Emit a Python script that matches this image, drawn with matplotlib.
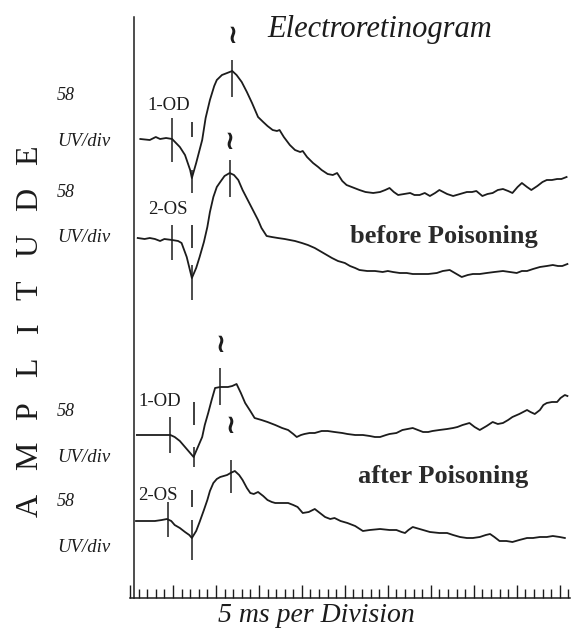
import matplotlib
matplotlib.use("Agg")
import matplotlib.pyplot as plt

# time in ms (1 minor tick = 1 ms, 5 ms per division), amplitude relative to baseline
t_od_before = [1.2, 2.3, 3.0, 3.5, 4.2, 4.9, 5.8, 6.4, 7.0, 7.2, 7.7, 8.4, 8.8, 9.3, 9.8, 10.1, 10.7, 11.3, 11.9,
               12.4, 13.0, 13.6, 14.2, 14.9, 15.5, 16.0, 16.6, 17.1, 17.4, 17.9, 18.6, 19.2, 19.8, 20.1, 20.6, 21.3,
               21.9, 22.3, 23.0, 23.6, 24.1, 24.7, 25.2, 25.8, 26.7, 27.4, 28.3, 29.1, 29.7, 30.2, 30.7, 31.2, 31.9,
               32.6, 33.1, 33.7, 34.3, 34.9, 35.5, 36.0, 36.9, 37.6, 38.4, 39.2, 39.8, 40.3, 41.0, 41.6, 42.2, 42.8,
               43.4, 44.0, 44.5, 45.1, 45.6, 46.2, 46.7, 47.4, 48.0, 48.5, 49.1, 49.7, 50.2, 50.8]
v_od_before = [0, -1, 2, 0, 1, 0, -8, -16, -31, -39, -24, -1, 21, 39, 53, 59, 64, 66, 68,
               64, 57, 47, 36, 22, 17, 13, 9, 8, 9, 2, -6, -11, -13, -12, -18, -24,
               -28, -31, -35, -36, -34, -42, -46, -48, -51, -53, -54, -53, -51, -49, -53, -56, -55,
               -54, -56, -56, -54, -57, -54, -51, -55, -57, -55, -53, -53, -52, -57, -55, -54, -51,
               -50, -52, -54, -48, -44, -48, -51, -47, -43, -41, -41, -40, -40, -38]

t_os_before = [0.9, 1.7, 2.3, 2.9, 3.5, 4.0, 4.9, 5.6, 6.0, 6.6, 7.2, 7.7, 8.1, 8.6, 9.0, 9.3, 9.7, 10.1, 10.5,
               11.0, 11.6, 12.1, 12.6, 13.1, 13.7, 14.3, 14.9, 15.3, 15.9, 16.5, 17.2, 18.0, 19.2, 20.0, 20.7,
               21.5, 22.3, 22.9, 23.5, 24.2, 25.0, 25.6, 26.2, 26.7, 27.6, 28.5, 29.4, 30.0, 30.6, 31.4, 32.2,
               32.9, 33.7, 34.7, 35.7, 36.4, 37.2, 37.8, 38.6, 39.3, 39.9, 40.7, 41.5, 42.4, 43.4, 44.2, 45.0,
               45.6, 46.2, 46.9, 47.7, 48.5, 49.2, 49.8, 50.3, 50.9]
v_os_before = [1, 0, 1, 0, -2, 0, -1, -2, -4, -18, -39, -29, -18, -3, 12, 27, 42, 52, 57,
               63, 66, 64, 59, 49, 39, 29, 19, 11, 3, 2, 1, 0, -2, -4, -6,
               -9, -13, -16, -19, -22, -24, -27, -29, -31, -32, -32, -33, -32, -33, -34, -34,
               -35, -35, -35, -34, -32, -31, -34, -38, -36, -35, -35, -34, -33, -32, -33, -34,
               -32, -32, -30, -28, -27, -26, -27, -27, -25]

t_od_after = [0.8, 1.7, 2.9, 3.7, 4.7, 5.2, 5.8, 6.4, 7.0, 7.4, 7.9, 8.4, 8.7, 9.1, 9.5, 9.9, 10.5, 10.9, 11.4,
              11.9, 12.4, 12.9, 13.4, 14.0, 14.5, 15.3, 16.0, 16.9, 17.7, 18.4, 19.0, 19.4, 19.9, 20.3, 20.9,
              21.5, 22.3, 23.0, 23.8, 24.7, 25.3, 26.2, 27.1, 27.9, 28.5, 29.1, 29.8, 30.2, 31.0, 31.7, 32.3,
              32.9, 33.5, 34.1, 34.7, 35.2, 36.0, 36.9, 37.6, 38.1, 38.7, 39.5, 40.1, 40.7, 41.5, 42.2, 42.8,
              43.4, 44.0, 44.5, 45.3, 46.2, 46.6, 47.1, 47.7, 48.1, 48.5, 49.1, 49.7, 50.1, 50.6, 50.9]
v_od_after = [0, 0, 0, 0, 0, -2, -6, -12, -18, -22, -12, -2, 10, 22, 35, 47, 48, 48, 48,
              49, 51, 42, 32, 24, 17, 15, 13, 10, 7, 5, 1, -2, 0, 1, 2,
              2, 4, 4, 3, 2, 1, 0, 0, -1, -2, -2, 0, 1, 2, 5, 6,
              7, 5, 3, 3, 4, 5, 6, 7, 8, 10, 12, 8, 5, 9, 13, 11,
              12, 15, 18, 21, 25, 23, 21, 25, 30, 32, 33, 33, 37, 40, 39]

t_os_after = [0.7, 1.7, 2.9, 3.7, 4.3, 4.8, 5.2, 5.8, 6.4, 6.9, 7.2, 7.7, 8.1, 8.6, 9.0, 9.3, 9.7, 10.1, 10.5,
              10.9, 11.3, 11.7, 12.2, 12.7, 13.1, 13.6, 14.0, 14.4, 14.9, 15.5, 16.0, 16.5, 16.9, 17.7, 18.4,
              19.0, 19.5, 20.1, 20.8, 21.5, 22.1, 22.7, 23.3, 23.8, 24.5, 25.3, 26.2, 27.1, 27.9, 29.1, 30.2,
              31.0, 31.6, 32.0, 32.4, 32.9, 33.7, 34.9, 36.0, 36.9, 37.6, 38.4, 39.2, 39.9, 40.7, 41.4, 41.9,
              42.4, 43.0, 43.8, 44.5, 45.3, 46.2, 46.9, 47.7, 48.5, 49.2, 50.0, 50.6]
v_os_after = [0, 0, 0, 1, 2, 0, -4, -7, -11, -14, -17, -10, -1, 11, 21, 30, 38, 42, 44,
              45, 46, 48, 50, 46, 41, 33, 28, 27, 29, 25, 21, 19, 18, 18, 18,
              16, 14, 8, 9, 12, 8, 4, 2, 3, 0, -2, -5, -10, -9, -8, -9,
              -9, -11, -12, -9, -6, -8, -11, -12, -12, -14, -16, -17, -17, -16, -14, -13,
              -16, -20, -20, -21, -19, -17, -17, -16, -16, -15, -16, -17]

# latencies (ms): onset, a-wave, b-wave
onset = [4.9, 4.9, 4.65, 4.4]
a_wave = [7.2, 7.2, 7.4, 7.2]
b_wave = [11.9, 11.6, 10.5, 11.7]

eye_labels = ["1-OD", "2-OS", "1-OD", "2-OS"]
scale_label = ["58", "UV/div"]
conditions = ["before Poisoning", "after Poisoning"]

W, H = 573, 632
baselines = [493, 393, 197, 111]
# marker extents relative to baseline: onset, a upper, a lower, b line, squiggle
onset_ext = [(21, -23), (14, -21), (18, -18), (19, -16)]
a_up = [(17, 2), (14, -9), (33, 10), (31, 14)]
a_low = [(-31, -54), (-26, -61), (-12, -32), (1, -39)]
b_line = [(79, 42), (79, 42), (67, 30), (61, 28)]
squig = [103, 97, 90, 95]

ink = "#1c1c1c"
serif = "Liberation Serif"

fig = plt.figure(figsize=(W / 100, H / 100), dpi=100)
ax = fig.add_axes([130 / W, 34 / H, 440 / W, (615 - 34) / H])
ax.set_xlim(0, 51.2)
ax.set_ylim(34, 615)

traces = [(t_od_before, v_od_before), (t_os_before, v_os_before),
          (t_od_after, v_od_after), (t_os_after, v_os_after)]
for i, (t, v) in enumerate(traces):
    b = baselines[i]
    ax.plot(t, [b + a for a in v], color=ink, lw=1.3, solid_joinstyle="round")
    ax.vlines(onset[i], b + onset_ext[i][1], b + onset_ext[i][0], color=ink, lw=1.1)
    ax.vlines(a_wave[i], b + a_up[i][1], b + a_up[i][0], color=ink, lw=1.2)
    ax.vlines(a_wave[i], b + a_low[i][1], b + a_low[i][0], color=ink, lw=1.1)
    ax.vlines(b_wave[i], b + b_line[i][1], b + b_line[i][0], color=ink, lw=1.1)
    ax.text(b_wave[i], b + squig[i], "\u2240", ha="center", va="center",
            fontsize=19, color=ink, family="DejaVu Sans", weight="bold")

# axes
for s in ["top", "right"]:
    ax.spines[s].set_visible(False)
ax.spines["left"].set_position(("data", 0.47))
ax.spines["left"].set_linewidth(1.1)
ax.spines["bottom"].set_linewidth(1.1)
ax.spines["left"].set_color(ink)
ax.spines["bottom"].set_color(ink)
ax.set_xticks(range(0, 52, 5))
ax.set_xticks(range(0, 52), minor=True)
ax.set_yticks([])
ax.tick_params(axis="x", which="major", direction="in", length=9.5, width=1.0, color=ink, labelbottom=False)
ax.tick_params(axis="x", which="minor", direction="in", length=6.5, width=1.0, color=ink)


def fp(x, y):
    return x / W, 1 - y / H


# scale labels
for y58, ydiv in [(95, 142), (192, 237), (412, 457), (502, 547)]:
    fig.text(*fp(57, y58), scale_label[0], ha="left", va="center", fontsize=13,
             style="italic", family=serif, color=ink)
    fig.text(*fp(57, ydiv), scale_label[1], ha="left", va="center", fontsize=13.5,
             style="italic", family=serif, color=ink)

for lbl, (x, y) in zip(eye_labels, [(147, 105), (148, 210), (138, 402), (138, 495)]):
    fig.text(*fp(x, y), lbl, ha="left", va="center", fontsize=13.5, family=serif, color=ink)

fig.text(*fp(380, 30), "Electroretinogram", ha="center", va="center", fontsize=22,
         style="italic", family=serif, color=ink)
fig.text(*fp(444, 236), conditions[0], ha="center", va="center", fontsize=19,
         weight="bold", family=serif, color="#2a2a2a")
fig.text(*fp(443, 476), conditions[1], ha="center", va="center", fontsize=19,
         weight="bold", family=serif, color="#2a2a2a")
fig.text(*fp(316, 615), "5 ms per Division", ha="center", va="center", fontsize=20,
         style="italic", family=serif, color=ink)

for ch, yc in zip("AMPLITUDE", [505, 456, 411, 367, 328, 290, 245, 199, 155]):
    fig.text(*fp(30, yc), ch, ha="center", va="center", rotation=90, fontsize=23,
             family=serif, color=ink)

fig.savefig("out.png", dpi=100)
